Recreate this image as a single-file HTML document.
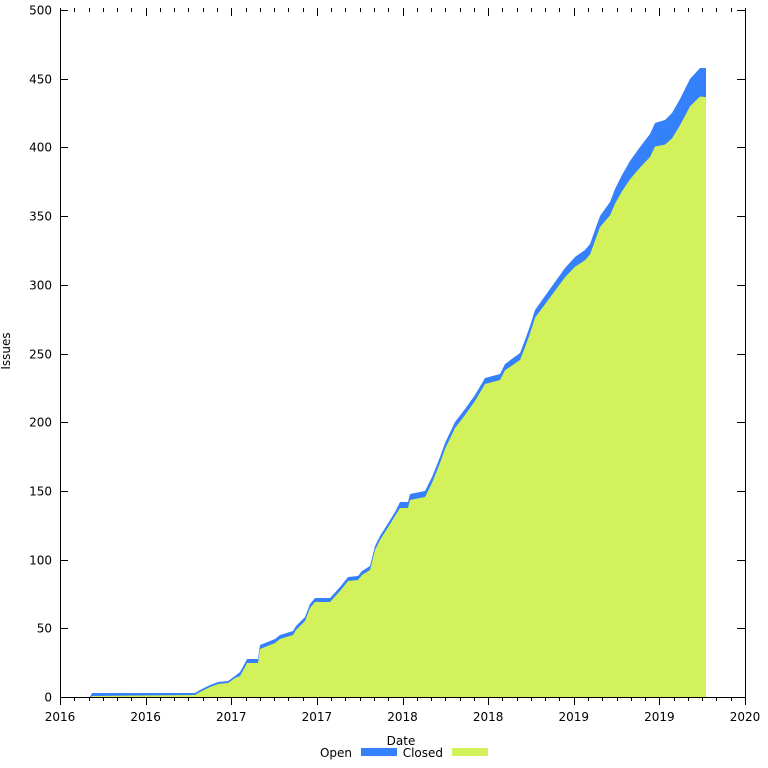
<!DOCTYPE html>
<html><head><meta charset="utf-8"><style>body{margin:0;background:#fff}svg{display:block}text{font-family:"DejaVu Sans","Liberation Sans",sans-serif;font-size:12px;fill:#000}</style></head><body>
<svg id="s" width="768" height="768" viewBox="0 0 768 768" xmlns="http://www.w3.org/2000/svg">
<polygon id="blue" fill="#3580fb" points=""/>
<polygon id="green" fill="#d3f15a" points=""/>
<g stroke="#000" stroke-width="1" fill="none">
<line x1="60.5" y1="10" x2="60.5" y2="697"/>
<line x1="60" y1="697.5" x2="746" y2="697.5"/>
<line x1="745.5" y1="10" x2="745.5" y2="697"/>
<g id="ticks"></g>
</g>
<g id="lab"></g>
<text x="14" y="355" text-anchor="middle" transform="rotate(-90 10 355)" font-size="11">Issues</text>
<text x="401" y="745" text-anchor="middle" font-size="11">Date</text>
<text x="352" y="757" text-anchor="end" font-size="12">Open</text>
<rect x="361" y="748" width="36" height="8" fill="#3580fb"/>
<text x="443" y="757" text-anchor="end" font-size="12">Closed</text>
<rect x="452" y="748" width="36" height="8" fill="#d3f15a"/>
</svg>
<script>
(function(){var ns="http://www.w3.org/2000/svg";var t=document.getElementById("ticks"),l=document.getElementById("lab");
var B=[[92,693],[195,693],[200,690],[210,685],[218,682],[228,681],[235,676],[240,672],[245,663],[247,659],[258,659],[260,645],[275,639],[280,635],[293,631],[296,626],[305,617],[310,604],[315,598],[330,598],[340,587],[348,577],[358,576],[362,571],[370,566],[375,546],[380,536],[387,525],[395,512],[400,502],[408,502],[410,494],[425,491],[432,477],[440,457],[445,443],[455,422],[465,409],[475,395],[485,378],[500,374],[505,364],[520,353],[525,340],[530,326],[535,310],[545,296],[555,282],[565,268],[575,257],[585,250],[590,244],[600,216],[610,202],[615,189],[622,175],[630,161],[640,147],[650,134],[655,123],[665,120],[672,113],[680,99],[690,79],[700,68],[706,68]];
function gap(x){if(x<240)return 2;if(x<400)return 4;if(x<500)return 6;if(x<600)return 6+(x-500)*0.05;if(x<650)return 11+(x-600)*0.24;return 23+(x-650)*0.11;}
function pts(p){return p.map(function(q){return q[0]+","+q[1];}).join(" ");}
var G=B.map(function(p){return [p[0],Math.min(696,p[1]+gap(p[0]))];});
G[0][1]=696;
document.getElementById("blue").setAttribute("points","90,697 "+pts(B)+" 706,697");
document.getElementById("green").setAttribute("points","91,697 "+pts(G)+" 706,697");
function ln(a,b,c,d){var e=document.createElementNS(ns,"line");e.setAttribute("x1",a);e.setAttribute("y1",b);e.setAttribute("x2",c);e.setAttribute("y2",d);t.appendChild(e);}
function tx(x,y,s,a){var e=document.createElementNS(ns,"text");e.setAttribute("x",x);e.setAttribute("y",y);e.setAttribute("text-anchor",a);e.textContent=s;l.appendChild(e);}
for(var i=0;i<=48;i++){var x=Math.round(60+i*685/48)+0.5;var maj=i%6==0;ln(x,697,x,697+(maj?8:4));ln(x,8,x,8+(maj?8:4));}
var yrs=["2016","2016","2017","2017","2018","2018","2019","2019","2020"];
for(var i=0;i<=8;i++){tx(60+i*685/8,721,yrs[i],"middle");}
for(var v=0;v<=500;v+=50){var y=Math.round(697-v*687/500)+0.5;ln(60,y,68,y);ln(737,y,745,y);tx(52,y+4,String(v),"end");}
})();
</script>
</body></html>
